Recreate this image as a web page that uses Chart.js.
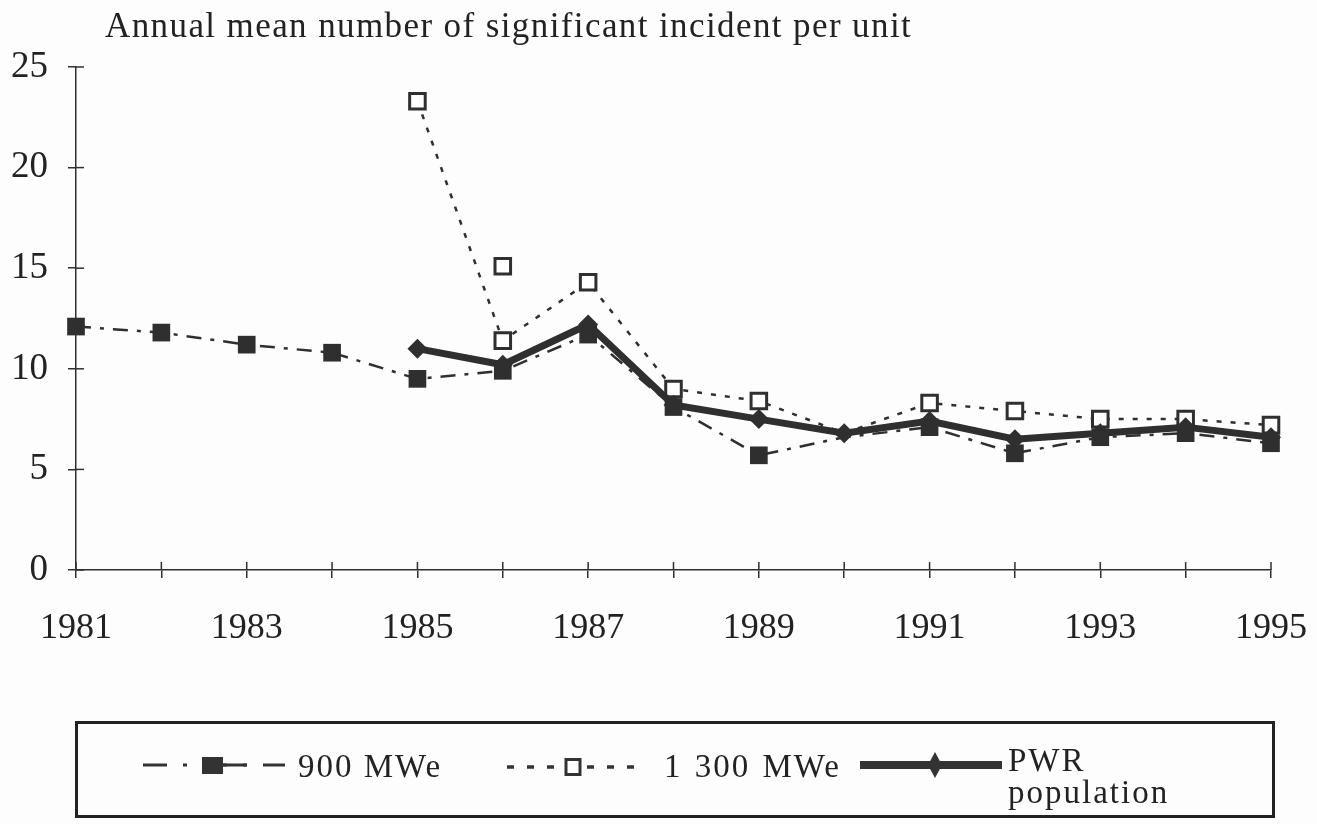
<!DOCTYPE html>
<html>
<head>
<meta charset="utf-8">
<script src="https://cdn.jsdelivr.net/npm/chart.js@4/dist/chart.umd.min.js"></script>
<style>
  html, body { margin: 0; padding: 0; background: #fdfdfd; }
  body { width: 1317px; height: 824px; position: relative; overflow: hidden; font-family: "Liberation Serif", serif; color: #222; }
  #wrap { position: absolute; left: 0; top: 0; width: 1317px; height: 824px; }
  #title { position: absolute; left: 105px; top: 6px; font-size: 35px; letter-spacing: 1.4px; white-space: nowrap; }
  #legendBox { position: absolute; left: 75px; top: 721px; width: 1200px; height: 97px; border: 3px solid #222; box-sizing: border-box; }
  .lg { position: absolute; font-size: 33px; letter-spacing: 2px; white-space: nowrap; line-height: 32px; }
  .sw { position: absolute; }
</style>
</head>
<body>
<div id="wrap"><canvas id="myChart"></canvas></div>
<div id="title">Annual mean number of significant incident per unit</div>
<div id="legendBox"></div>
<svg class="sw" style="left:143px;top:750px" width="142" height="30">
  <line x1="0" y1="15" x2="142" y2="15" stroke="#333" stroke-width="3" stroke-dasharray="24 16 4 16"/>
  <line x1="60" y1="15" x2="104" y2="15" stroke="#333" stroke-width="3"/>
  <rect x="59" y="7" width="21" height="17" fill="#333"/>
</svg>
<div class="lg" style="left:298px;top:750px">900 MWe</div>
<svg class="sw" style="left:507px;top:752px" width="130" height="30">
  <line x1="0" y1="15" x2="130" y2="15" stroke="#333" stroke-width="3.5" stroke-dasharray="7 13"/>
  <rect x="59" y="7.5" width="14" height="15" fill="#fff" stroke="#333" stroke-width="3"/>
</svg>
<div class="lg" style="left:664px;top:750px;word-spacing:2px">1 300 MWe</div>
<svg class="sw" style="left:860px;top:747px" width="142" height="36">
  <line x1="0" y1="18" x2="142" y2="18" stroke="#333" stroke-width="8"/>
  <polygon points="75,5 82,18 75,31 68,18" fill="#333"/>
</svg>
<div class="lg" style="left:1008px;top:744px">PWR<br>population</div>

<script>
// years on the x axis, label only on odd years
const years = [1981, 1982, 1983, 1984, 1985, 1986, 1987, 1988, 1989, 1990, 1991, 1992, 1993, 1994, 1995];
const yTicks = [0, 5, 10, 15, 20, 25];

const mwe900 = [12.1, 11.8, 11.2, 10.8, 9.5, 9.9, 11.7, 8.1, 5.7, 6.6, 7.1, 5.8, 6.6, 6.8, 6.3];
const mwe1300 = [null, null, null, null, 23.3, 11.4, 14.3, 9.0, 8.4, 6.8, 8.3, 7.9, 7.5, 7.5, 7.2];
const pwrPopulation = [null, null, null, null, 11.0, 10.2, 12.2, 8.2, 7.5, 6.8, 7.4, 6.5, 6.8, 7.1, 6.6];

// second 1 300 MWe value plotted for 1986, not joined to the line
const extra1300Years = [1986];
const extra1300Values = [15.1];

// years where no marker is shown on the 900 / 1300 curves
const noMarkerYears = [1990];

const DARK = '#2f2f2f';
const ctx = document.getElementById('myChart').getContext('2d');

function toPoints(xs, ys) {
  return xs.map((x, i) => ({ x: x, y: ys[i] })).filter(p => p.y !== null);
}

function markerRadius(r) {
  return c => (c.raw && noMarkerYears.includes(c.raw.x)) ? 0 : r;
}

// ticks in the original cross the axis line, draw the inner half
const innerTicks = {
  id: 'innerTicks',
  beforeDatasetsDraw(chart) {
    const { ctx, chartArea, scales } = chart;
    ctx.save();
    ctx.strokeStyle = DARK;
    ctx.lineWidth = 1.5;
    scales.x.ticks.forEach(t => {
      const px = scales.x.getPixelForValue(t.value);
      ctx.beginPath();
      ctx.moveTo(px, chartArea.bottom);
      ctx.lineTo(px, chartArea.bottom - 8);
      ctx.stroke();
    });
    scales.y.ticks.forEach(t => {
      const py = scales.y.getPixelForValue(t.value);
      ctx.beginPath();
      ctx.moveTo(chartArea.left, py);
      ctx.lineTo(chartArea.left + 8, py);
      ctx.stroke();
    });
    ctx.restore();
  }
};

new Chart(ctx, {
  type: 'line',
  data: {
    datasets: [
      {
        label: '900 MWe',
        data: toPoints(years, mwe900),
        borderColor: DARK,
        backgroundColor: DARK,
        borderWidth: 2.5,
        borderDash: [15, 9, 4, 9],
        pointStyle: 'rect',
        pointRadius: markerRadius(12.5),
        pointBorderWidth: 0,
        clip: false,
        order: 3,
      },
      {
        label: '1 300 MWe',
        data: toPoints(years, mwe1300),
        borderColor: DARK,
        backgroundColor: '#ffffff',
        borderWidth: 2.5,
        borderDash: [5, 9],
        pointStyle: 'rect',
        pointRadius: markerRadius(11),
        pointBorderWidth: 3,
        spanGaps: true,
        clip: false,
        order: 2,
      },
      {
        label: '1 300 MWe (second value)',
        data: toPoints(extra1300Years, extra1300Values),
        showLine: false,
        borderColor: DARK,
        backgroundColor: '#ffffff',
        pointStyle: 'rect',
        pointRadius: 11,
        pointBorderWidth: 3,
        clip: false,
        order: 2,
      },
      {
        label: 'PWR population',
        data: toPoints(years, pwrPopulation),
        borderColor: DARK,
        backgroundColor: DARK,
        borderWidth: 7,
        pointStyle: 'rectRot',
        pointRadius: 10,
        pointBorderWidth: 0,
        clip: false,
        order: 1,
      },
    ],
  },
  options: {
    responsive: true,
    maintainAspectRatio: false,
    animation: false,
    events: [],
    layout: { padding: { left: 12, right: 46, top: 67, bottom: 174 } },
    plugins: {
      legend: { display: false },
      title: { display: false },
      tooltip: { enabled: false },
    },
    elements: { line: { tension: 0 } },
    scales: {
      x: {
        type: 'linear',
        min: years[0],
        max: years[years.length - 1],
        afterFit(scale) {
          scale.height = 80;
          scale.paddingLeft = 0;
          scale.paddingRight = 0;
        },
        afterBuildTicks(scale) { scale.ticks = years.map(v => ({ value: v })); },
        ticks: {
          autoSkip: false,
          maxRotation: 0,
          padding: 29,
          color: '#222',
          font: { family: 'Liberation Serif', size: 36 },
          callback: v => (v % 2 === 1 ? String(v) : ''),
        },
        grid: { drawOnChartArea: false, drawTicks: true, tickLength: 8, color: DARK, lineWidth: 1.5 },
        border: { display: true, color: DARK, width: 1.5 },
      },
      y: {
        min: 0,
        max: 25,
        afterFit(scale) {
          scale.width = 64;
          scale.paddingTop = 0;
          scale.paddingBottom = 0;
        },
        afterBuildTicks(scale) { scale.ticks = yTicks.map(v => ({ value: v })); },
        ticks: {
          padding: 20,
          color: '#222',
          font: { family: 'Liberation Serif', size: 37 },
        },
        grid: { drawOnChartArea: false, drawTicks: true, tickLength: 8, color: DARK, lineWidth: 1.5 },
        border: { display: true, color: DARK, width: 1.5 },
      },
    },
  },
  plugins: [innerTicks],
});
</script>
</body>
</html>
